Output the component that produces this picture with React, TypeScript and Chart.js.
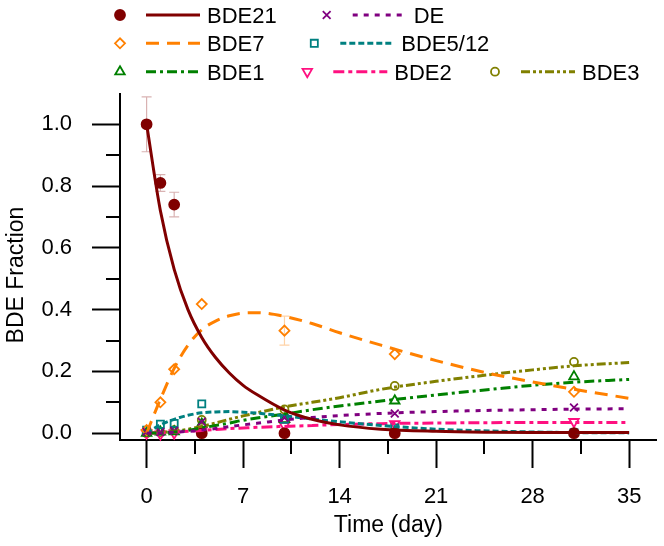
import React, { useEffect, useRef } from "react";
import { Chart, registerables } from "chart.js";

Chart.register(...registerables);

// ---- data ----
const pointDays = [0, 1, 2, 4, 10, 18, 31];
const bde21Pts = [1.0, 0.81, 0.74, 0.0, 0.0, 0.0, 0.0];
const bde21Err = [0.089, 0.027, 0.04, 0, 0, 0, 0];
const dePts = [0.005, 0.004, 0.008, 0.037, 0.05, 0.064, 0.083];
const bde7Pts = [0.01, 0.1, 0.207, 0.418, 0.332, 0.256, 0.134];
const bde7Err = [0, 0, 0, 0, 0.047, 0, 0];
const bde512Pts = [0.01, 0.029, 0.032, 0.095, 0.045, 0.017, 0.002];
const bde1Pts = [0.0, 0.004, 0.005, 0.03, 0.045, 0.105, 0.183];
const bde2Pts = [0.0, -0.003, 0.0, 0.008, 0.025, 0.03, 0.037];
const bde3Pts = [0.0, 0.003, 0.01, 0.043, 0.077, 0.153, 0.231];

const curveDays = [0, 1, 2, 3, 4, 5, 6, 7, 8, 10, 12, 14, 17, 21, 25, 28, 31, 35];
const bde21Curve = [1.0, 0.72, 0.53, 0.4, 0.31, 0.245, 0.195, 0.155, 0.125, 0.075, 0.045, 0.027, 0.013, 0.006, 0.003, 0.002, 0.002, 0.002];
const deCurve = [0, 0.001, 0.003, 0.006, 0.01, 0.015, 0.021, 0.027, 0.032, 0.043, 0.051, 0.057, 0.064, 0.07, 0.074, 0.076, 0.078, 0.079];
const bde7Curve = [0, 0.11, 0.21, 0.285, 0.335, 0.363, 0.38, 0.389, 0.39, 0.378, 0.355, 0.325, 0.285, 0.235, 0.192, 0.166, 0.142, 0.113];
const bde512Curve = [0, 0.027, 0.045, 0.058, 0.066, 0.069, 0.07, 0.068, 0.065, 0.056, 0.046, 0.037, 0.025, 0.013, 0.007, 0.004, 0.002, 0.001];
const bde1Curve = [0, 0.001, 0.004, 0.009, 0.017, 0.025, 0.033, 0.042, 0.049, 0.062, 0.076, 0.088, 0.104, 0.124, 0.142, 0.155, 0.165, 0.174];
const bde2Curve = [0, 0.001, 0.003, 0.006, 0.009, 0.012, 0.015, 0.017, 0.019, 0.022, 0.025, 0.028, 0.031, 0.033, 0.034, 0.035, 0.035, 0.035];
const bde3Curve = [0, 0.002, 0.006, 0.013, 0.022, 0.033, 0.045, 0.056, 0.066, 0.085, 0.1, 0.115, 0.142, 0.168, 0.19, 0.205, 0.218, 0.229];

const xTicks = [0, 7, 14, 21, 28, 35];
const xMinorTicks = [3.5, 10.5, 17.5, 24.5, 31.5];
const yTicks = [0, 0.2, 0.4, 0.6, 0.8, 1.0];
const yMinorTicks = [0.1, 0.3, 0.5, 0.7, 0.9];

const seriesNames = ["BDE21", "DE", "BDE7", "BDE5/12", "BDE1", "BDE2", "BDE3"];

// ---- styles ----
type Style = {
  color: string;
  dash: number[];
  marker: string;
  radius: number;
  filled: boolean;
  rotation?: number;
};
const styles: Record<string, Style> = {
  BDE21: { color: "#800000", dash: [], marker: "circle", radius: 5, filled: true },
  DE: { color: "#800080", dash: [5, 6], marker: "crossRot", radius: 5.5, filled: false },
  BDE7: { color: "#FF8000", dash: [13, 8], marker: "rectRot", radius: 5, filled: false },
  "BDE5/12": { color: "#008080", dash: [6, 3], marker: "rect", radius: 5, filled: false },
  BDE1: { color: "#008000", dash: [10, 4, 3, 4], marker: "triangle", radius: 5.5, filled: false },
  BDE2: { color: "#FF1080", dash: [11, 4, 4, 4], marker: "triangle", radius: 5.5, filled: false, rotation: 180 },
  BDE3: { color: "#808000", dash: [9, 3, 3, 3, 3, 3], marker: "circle", radius: 4, filled: false },
};

const pointsBy: Record<string, number[]> = {
  BDE21: bde21Pts, DE: dePts, BDE7: bde7Pts, "BDE5/12": bde512Pts, BDE1: bde1Pts, BDE2: bde2Pts, BDE3: bde3Pts,
};
const curveBy: Record<string, number[]> = {
  BDE21: bde21Curve, DE: deCurve, BDE7: bde7Curve, "BDE5/12": bde512Curve, BDE1: bde1Curve, BDE2: bde2Curve, BDE3: bde3Curve,
};
const errBy: Record<string, { err: number[]; color: string }> = {
  BDE21: { err: bde21Err, color: "rgba(128,0,0,0.3)" },
  BDE7: { err: bde7Err, color: "rgba(255,128,0,0.35)" },
};

// legend layout: [name, markerX, row]
const legendLayout: [string, number, number][] = [
  ["BDE21", 120, 0],
  ["DE", 326.7, 0],
  ["BDE7", 120, 1],
  ["BDE5/12", 314.3, 1],
  ["BDE1", 120, 2],
  ["BDE2", 307.3, 2],
  ["BDE3", 495, 2],
];
const legendRowY = [15, 43.3, 71.7];

const FONT = '"Liberation Sans", Arial, Helvetica, sans-serif';

function drawMarker(ctx: CanvasRenderingContext2D, st: Style, x: number, y: number) {
  const r = st.radius;
  ctx.save();
  ctx.setLineDash([]);
  ctx.strokeStyle = st.color;
  ctx.fillStyle = st.color;
  ctx.lineWidth = 1.8;
  ctx.beginPath();
  if (st.marker === "circle") {
    ctx.arc(x, y, r, 0, Math.PI * 2);
  } else if (st.marker === "crossRot") {
    const o = r * Math.SQRT1_2;
    ctx.moveTo(x - o, y - o); ctx.lineTo(x + o, y + o);
    ctx.moveTo(x + o, y - o); ctx.lineTo(x - o, y + o);
  } else if (st.marker === "rectRot") {
    ctx.moveTo(x - r, y); ctx.lineTo(x, y - r); ctx.lineTo(x + r, y); ctx.lineTo(x, y + r); ctx.closePath();
  } else if (st.marker === "rect") {
    const s = r * Math.SQRT1_2;
    ctx.rect(x - s, y - s, 2 * s, 2 * s);
  } else if (st.marker === "triangle") {
    let rad = ((st.rotation || 0) * Math.PI) / 180;
    ctx.moveTo(x + Math.sin(rad) * r, y - Math.cos(rad) * r);
    rad += (2 * Math.PI) / 3;
    ctx.lineTo(x + Math.sin(rad) * r, y - Math.cos(rad) * r);
    rad += (2 * Math.PI) / 3;
    ctx.lineTo(x + Math.sin(rad) * r, y - Math.cos(rad) * r);
    ctx.closePath();
  }
  if (st.filled) ctx.fill();
  ctx.stroke();
  ctx.restore();
}

const decorPlugin = {
  id: "decor",
  beforeDatasetsDraw(chart: any) {
    const { ctx } = chart;
    const xs = chart.scales.x;
    const ys = chart.scales.y;
    ctx.save();
    Object.keys(errBy).forEach((name) => {
      const { err, color } = errBy[name];
      const pts = pointsBy[name];
      ctx.strokeStyle = color;
      ctx.lineWidth = 1.2;
      err.forEach((e, i) => {
        if (!e) return;
        const px = xs.getPixelForValue(pointDays[i]);
        const top = ys.getPixelForValue(pts[i] + e);
        const bot = ys.getPixelForValue(pts[i] - e);
        ctx.beginPath();
        ctx.moveTo(px, top); ctx.lineTo(px, bot);
        ctx.moveTo(px - 5, top); ctx.lineTo(px + 5, top);
        ctx.moveTo(px - 5, bot); ctx.lineTo(px + 5, bot);
        ctx.stroke();
      });
    });
    ctx.restore();
  },
  afterDraw(chart: any) {
    const { ctx, chartArea } = chart;
    const xs = chart.scales.x;
    const ys = chart.scales.y;
    ctx.save();
    // minor ticks
    ctx.strokeStyle = "#000";
    ctx.lineWidth = 2;
    ctx.beginPath();
    xMinorTicks.forEach((v) => {
      const px = Math.round(xs.getPixelForValue(v));
      ctx.moveTo(px, chartArea.bottom); ctx.lineTo(px, chartArea.bottom + 14);
    });
    yMinorTicks.forEach((v) => {
      const py = Math.round(ys.getPixelForValue(v));
      ctx.moveTo(chartArea.left, py); ctx.lineTo(chartArea.left - 14, py);
    });
    ctx.stroke();

    // axis titles
    ctx.fillStyle = "#000";
    ctx.font = `23px ${FONT}`;
    ctx.textAlign = "center";
    ctx.textBaseline = "alphabetic";
    ctx.fillText("Time (day)", (chartArea.left + chartArea.right) / 2, 532);
    ctx.save();
    ctx.translate(23, (chartArea.top + chartArea.bottom) / 2 + 8);
    ctx.rotate(-Math.PI / 2);
    ctx.fillText("BDE Fraction", 0, 0);
    ctx.restore();

    // legend
    ctx.font = `22px ${FONT}`;
    ctx.textAlign = "left";
    legendLayout.forEach(([name, mx, row]) => {
      const st = styles[name];
      const y = legendRowY[row];
      drawMarker(ctx, st, mx, y);
      const x1 = mx + 26;
      const x2 = mx + 80;
      ctx.save();
      ctx.strokeStyle = st.color;
      ctx.lineWidth = 3;
      ctx.setLineDash(st.dash);
      ctx.beginPath();
      ctx.moveTo(x1, y); ctx.lineTo(x2, y);
      ctx.stroke();
      ctx.restore();
      ctx.fillStyle = "#000";
      ctx.fillText(name, x2 + 7, y + 8);
    });
    ctx.restore();
  },
};

export default function App() {
  const ref = useRef<HTMLCanvasElement | null>(null);
  useEffect(() => {
    if (!ref.current) return;
    Chart.defaults.font.family = FONT;
    const datasets: any[] = [];
    seriesNames.forEach((name) => {
      const st = styles[name];
      datasets.push({
        label: name + " fit",
        data: curveDays.map((d, i) => ({ x: d, y: curveBy[name][i] })),
        showLine: true,
        borderColor: st.color,
        borderWidth: 3,
        borderDash: st.dash,
        pointRadius: 0,
        cubicInterpolationMode: "monotone",
        fill: false,
      });
    });
    seriesNames.forEach((name) => {
      const st = styles[name];
      datasets.push({
        label: name,
        data: pointDays.map((d, i) => ({ x: d, y: pointsBy[name][i] })),
        showLine: false,
        pointStyle: st.marker,
        pointRadius: st.radius,
        pointRotation: st.rotation || 0,
        pointBorderWidth: 1.8,
        pointBorderColor: st.color,
        pointBackgroundColor: st.filled ? st.color : "rgba(255,255,255,0)",
        clip: false,
      });
    });

    const chart = new Chart(ref.current, {
      type: "scatter",
      data: { datasets },
      options: {
        responsive: false,
        animation: false,
        layout: { padding: { top: 94, right: 6, left: 0, bottom: 0 } },
        plugins: { legend: { display: false }, tooltip: { enabled: false } },
        scales: {
          x: {
            type: "linear",
            min: -1.93,
            max: 37.0,
            afterBuildTicks: (s: any) => {
              s.ticks = xTicks.map((v) => ({ value: v }));
            },
            afterFit: (s: any) => {
              s.height = 106;
            },
            grid: { display: true, drawOnChartArea: false, drawTicks: true, tickLength: 28, tickWidth: 2, tickColor: "#000" },
            border: { display: true, color: "#000", width: 2 },
            ticks: { color: "#000", font: { size: 22 }, padding: 16, maxRotation: 0, autoSkip: false, callback: (v: any) => String(v) },
          },
          y: {
            type: "linear",
            min: -0.022,
            max: 1.098,
            afterBuildTicks: (s: any) => {
              s.ticks = yTicks.map((v) => ({ value: v }));
            },
            afterFit: (s: any) => {
              s.width = 120;
            },
            grid: { display: true, drawOnChartArea: false, drawTicks: true, tickLength: 28, tickWidth: 2, tickColor: "#000" },
            border: { display: true, color: "#000", width: 2 },
            ticks: { color: "#000", font: { size: 22 }, padding: 20, autoSkip: false, callback: (v: any) => Number(v).toFixed(1) },
          },
        },
      },
      plugins: [decorPlugin],
    } as any);
    return () => chart.destroy();
  }, []);
  return (
    <div style={{ position: "absolute", left: 0, top: 0, width: 664, height: 546, background: "#fff" }}>
      <canvas ref={ref} width={664} height={546} style={{ width: 664, height: 546, display: "block" }} />
    </div>
  );
}
